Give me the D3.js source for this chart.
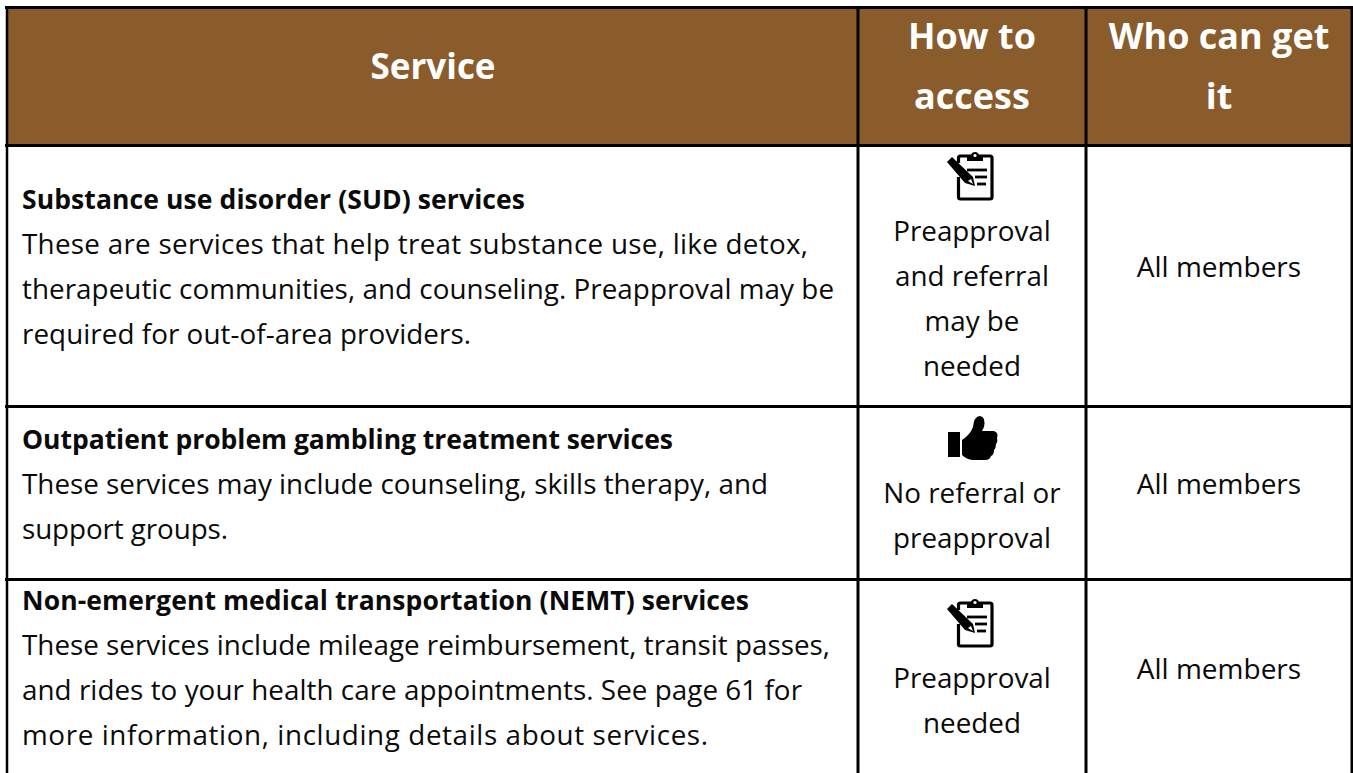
<!DOCTYPE html>
<html lang="en">
<head>
  <meta charset="UTF-8">
  <script src="https://cdn.jsdelivr.net/npm/d3@7"></script>
  <title>Services table</title>
  <style>
    html, body { margin: 0; padding: 0; background: #fff; }
    svg { display: block; }
    text { font-family: "Open Sans", sans-serif; fill: #0a0a0a; }
  </style>
</head>
<body>
  <script>
    const headers = [['Service'], ['How to', 'access'], ['Who can get', 'it']]
    const services = [
      'Substance use disorder (SUD) services',
      'Outpatient problem gambling treatment services',
      'Non-emergent medical transportation (NEMT) services'
    ]
    const descriptions = [
      ['These are services that help treat substance use, like detox,',
       'therapeutic communities, and counseling. Preapproval may be',
       'required for out-of-area providers.'],
      ['These services may include counseling, skills therapy, and',
       'support groups.'],
      ['These services include mileage reimbursement, transit passes,',
       'and rides to your health care appointments. See page 61 for',
       'more information, including details about services.']
    ]
    const access = [
      ['Preapproval', 'and referral', 'may be', 'needed'],
      ['No referral or', 'preapproval'],
      ['Preapproval', 'needed']
    ]
    const icons = ['clipboard', 'thumb', 'clipboard']
    const who = ['All members', 'All members', 'All members']

    const width = 1353, height = 773
    const colEdges = [7, 858, 1086, 1352]
    const rowEdges = [7.5, 145.5, 406.5, 579.5, 773]
    // first baseline of each row's text in each column
    const textTop = [209, 449, 610]
    const accessTop = [241, 503, 688]
    const whoBase = [277, 494, 679]
    const iconTop = [152, 415, 599]
    const lineH = 45
    // measured line widths, the source font is a bit wider in places
    const serviceWidths = [503, 651, 727]
    const descWidths = [[786, 812, 449], [746, 206], [808, 780, 686]]

    const svg = d3.select('body').append('svg')
        .attr('width', width)
        .attr('height', height)

    const colMid = d3.scaleOrdinal().domain([0, 1, 2]).range([433, 972, 1219])

    svg.append('rect')
        .attr('x', colEdges[0]).attr('y', rowEdges[0])
        .attr('width', colEdges[3] - colEdges[0])
        .attr('height', rowEdges[1] - rowEdges[0])
        .attr('fill', '#8a5b2b')

    // header
    headers.forEach((lines, c) => {
      lines.forEach((t, i) => {
        svg.append('text')
            .attr('x', colMid(c))
            .attr('y', lines.length === 1 ? 79 : 49 + i * 60)
            .attr('text-anchor', 'middle')
            .attr('font-size', c === 0 ? 35 : 36)
            .attr('font-weight', 700)
            .style('fill', '#fff')
            .text(t)
      })
    })

    // body rows
    services.forEach((name, r) => {
      svg.append('text')
          .attr('x', 22).attr('y', textTop[r])
          .attr('font-size', 26.5)
          .attr('font-weight', 700)
          .attr('textLength', serviceWidths[r])
          .attr('lengthAdjust', 'spacing')
          .text(name)

      descriptions[r].forEach((t, i) => {
        svg.append('text')
            .attr('x', 22).attr('y', textTop[r] + (i + 1) * lineH)
            .attr('font-size', 27.8)
            .attr('textLength', descWidths[r][i])
            .attr('lengthAdjust', 'spacing')
            .text(t)
      })

      access[r].forEach((t, i) => {
        svg.append('text')
            .attr('x', colMid(1)).attr('y', accessTop[r] + i * lineH)
            .attr('text-anchor', 'middle')
            .attr('font-size', 27.8)
            .text(t)
      })

      svg.append('text')
          .attr('x', colMid(2)).attr('y', whoBase[r])
          .attr('text-anchor', 'middle')
          .attr('font-size', 28)
          .text(who[r])

      const g = svg.append('g')
          .attr('transform', `translate(${colMid(1) - 25},${iconTop[r]})`)
      if (icons[r] === 'clipboard') drawClipboard(g)
      else drawThumb(g)
    })

    // grid
    const rule = (x1, y1, x2, y2, w) => svg.append('line')
        .attr('x1', x1).attr('y1', y1).attr('x2', x2).attr('y2', y2)
        .attr('stroke', '#000').attr('stroke-width', w)

    rowEdges.slice(0, 4).forEach(y => rule(colEdges[0] - 2, y, width, y, 3))
    colEdges.forEach((x, i) => rule(x, rowEdges[0], x, height, i === 0 ? 2.5 : 3))

    function drawClipboard(g) {
      g.append('path')
          .attr('d', 'M11.5 11V6Q11.5 4 13.5 4H43Q45 4 45 6V45Q45 47 43 47H13.5Q11.5 47 11.5 45V25')
          .attr('fill', 'none').attr('stroke', '#000').attr('stroke-width', 3.2)
      // clip
      g.append('path')
          .attr('d', 'M20 9V3H24Q25 0 28 0Q31 0 32 3H36V9Z')
          .attr('fill', '#000')
      g.append('circle').attr('cx', 28).attr('cy', 3.5).attr('r', 1.6).attr('fill', '#fff')
      // text lines
      ;[[20, 40, 18], [28, 40, 25], [30, 39, 32]].forEach(d => {
        g.append('line')
            .attr('x1', d[0]).attr('x2', d[1]).attr('y1', d[2]).attr('y2', d[2])
            .attr('stroke', '#000').attr('stroke-width', 2.8)
      })
      // pencil
      g.append('path')
          .attr('d', 'M0 10L5 5L26 25L28 34L18 31Z')
          .attr('fill', '#000')
      g.append('path')
          .attr('d', 'M21 29L24 27L26 32Z')
          .attr('fill', '#fff')
    }

    function drawThumb(g) {
      g.append('rect').attr('x', 1).attr('y', 17).attr('width', 12).attr('height', 25).attr('fill', '#000')
      g.append('path')
          .attr('d', 'M15 25Q23 20 26 12Q27 1 33 1Q39 2 37 12L35 16H47Q52 18 50 23Q51 27 49 29Q49 33 47 35Q47 40 44 41Q43 45 38 45H27Q20 45 15 40Z')
          .attr('fill', '#000')
    }
  </script>
</body>
</html>
